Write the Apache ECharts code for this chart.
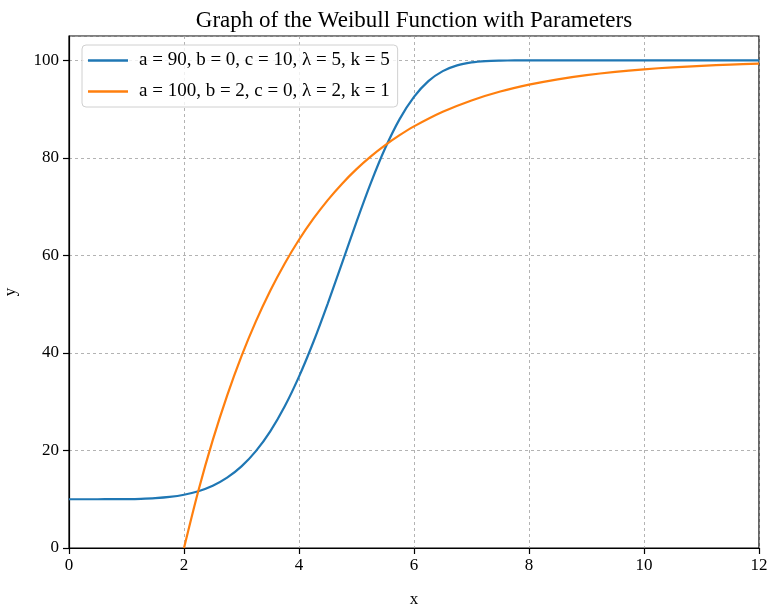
<!DOCTYPE html>
<html>
<head>
<meta charset="utf-8">
<script src="https://cdn.jsdelivr.net/npm/echarts@6/dist/echarts.min.js"></script>
<style>html,body{margin:0;padding:0;background:#fff}#c{width:767px;height:607px}</style>
</head>
<body>
<div id="c"></div>
<script>
var titleText = 'Graph of the Weibull Function with Parameters';
var seriesNames = ['a = 90, b = 0, c = 10, \u03bb = 5, k = 5', 'a = 100, b = 2, c = 0, \u03bb = 2, k = 1'];
var xTicks = [0, 2, 4, 6, 8, 10, 12];
var yTicks = [0, 20, 40, 60, 80, 100];

var blueX = [0, 0.25, 0.5, 0.75, 1, 1.25, 1.5, 1.75, 2, 2.25, 2.5, 2.75, 3, 3.25, 3.5, 3.75, 4, 4.25, 4.5, 4.75, 5, 5.25, 5.5, 5.75, 6, 6.25, 6.5, 6.75, 7, 7.25, 7.5, 7.75, 8, 9, 10, 11, 12];
var blueY = [10, 10, 10.001, 10.007, 10.03, 10.09, 10.22, 10.47, 10.92, 11.65, 12.77, 14.42, 16.73, 19.86, 23.92, 29.01, 35.15, 42.25, 50.14, 58.49, 66.89, 74.88, 82.02, 87.96, 92.52, 95.75, 97.8, 98.98, 99.58, 99.85, 99.95, 99.99, 100, 100, 100, 100, 100];

var orangeX = [2, 2.25, 2.5, 2.75, 3, 3.25, 3.5, 3.75, 4, 4.25, 4.5, 4.75, 5, 5.25, 5.5, 5.75, 6, 6.5, 7, 7.5, 8, 8.5, 9, 9.5, 10, 10.5, 11, 11.5, 12];
var orangeY = [0, 11.75, 22.12, 31.27, 39.35, 46.47, 52.76, 58.31, 63.21, 67.53, 71.35, 74.72, 77.69, 80.31, 82.62, 84.66, 86.47, 89.46, 91.79, 93.61, 95.02, 96.12, 96.98, 97.65, 98.17, 98.57, 98.89, 99.13, 99.33];

function pairs(xs, ys) { return xs.map(function (x, i) { return [x, ys[i]]; }); }

var FONT = '"Liberation Serif", "Times New Roman", serif';
var chart = echarts.init(document.getElementById('c'));
chart.setOption({
  animation: false,
  backgroundColor: '#fff',
  title: {
    text: titleText, left: 409, textAlign: 'center', top: 4,
    textStyle: { fontFamily: FONT, fontSize: 23, fontWeight: 'normal', color: '#000' }
  },
  grid: { left: 69, right: 8, top: 36, bottom: 59, show: true, borderColor: '#000', borderWidth: 1.2,
    outerBoundsMode: 'none', containLabel: false },
  legend: {
    orient: 'vertical', left: 82, top: 45,
    padding: [6, 8, 6, 6],
    itemWidth: 40, itemHeight: 2.5, itemGap: 12, icon: 'rect',
    backgroundColor: 'rgba(255,255,255,0.8)', borderColor: '#d0d0d0', borderWidth: 1, borderRadius: 4,
    textStyle: { fontFamily: FONT, fontSize: 19, color: '#000', padding: [0, 0, 0, 6] },
    data: seriesNames
  },
  xAxis: {
    type: 'value', min: 0, max: 12, interval: 2,
    name: 'x', nameLocation: 'middle', nameGap: 43,
    nameTextStyle: { fontFamily: FONT, fontSize: 17, color: '#000' },
    axisLine: { lineStyle: { color: '#000', width: 1.2 } },
    axisTick: { show: true, inside: false, length: 6, lineStyle: { color: '#000', width: 1.2 } },
    axisLabel: { fontFamily: FONT, fontSize: 17, color: '#000', margin: 9,
      formatter: function (v) { return xTicks.indexOf(v) >= 0 ? String(v) : ''; } },
    splitLine: { show: true, lineStyle: { color: '#a0a0a0', type: [3, 3], width: 0.8 } }
  },
  yAxis: {
    type: 'value', min: 0, max: 105, interval: 20,
    name: 'y', nameLocation: 'middle', nameGap: 50, nameRotate: 90,
    nameTextStyle: { fontFamily: FONT, fontSize: 17, color: '#000' },
    axisLine: { lineStyle: { color: '#000', width: 1.2 } },
    axisTick: { show: true, inside: false, length: 6, lineStyle: { color: '#000', width: 1.2 } },
    axisLabel: { fontFamily: FONT, fontSize: 17, color: '#000', margin: 10, showMaxLabel: false,
      formatter: function (v) { return yTicks.indexOf(v) >= 0 ? String(v) : ''; } },
    splitLine: { show: true, lineStyle: { color: '#a0a0a0', type: [3, 3], width: 0.8 } }
  },
  series: [
    { name: seriesNames[0], type: 'line', data: pairs(blueX, blueY), showSymbol: false, symbol: 'none', smooth: 0.3,
      color: '#1f77b4', lineStyle: { width: 2.2, color: '#1f77b4' } },
    { name: seriesNames[1], type: 'line', data: pairs(orangeX, orangeY), showSymbol: false, symbol: 'none', smooth: 0.3,
      color: '#ff7f0e', lineStyle: { width: 2.2, color: '#ff7f0e' } }
  ]
});
</script>
</body>
</html>
